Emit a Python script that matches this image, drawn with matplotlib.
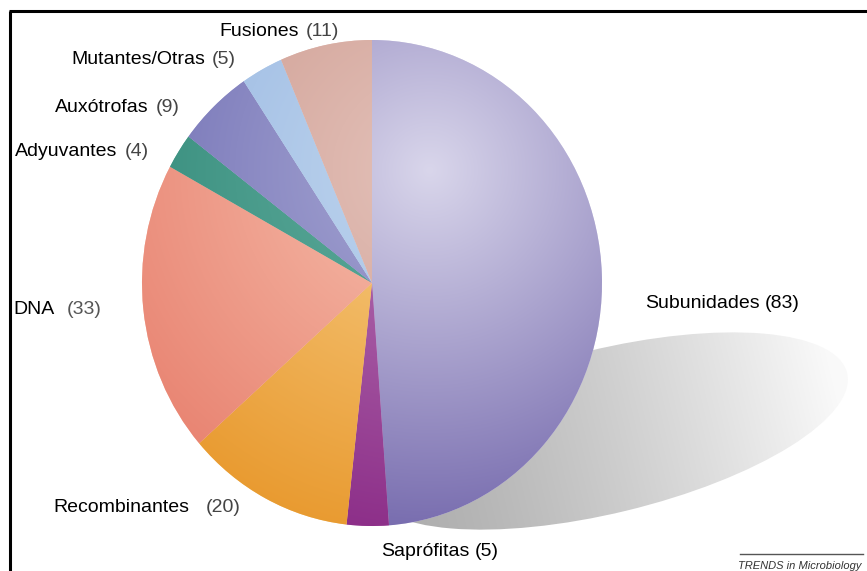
import numpy as np
import matplotlib
matplotlib.use('Agg')
import matplotlib.pyplot as plt
from matplotlib.patches import Ellipse
from matplotlib.colors import to_rgb


labels = ['Subunidades', 'Saprófitas', 'Recombinantes', 'DNA',
          'Adyuvantes', 'Auxótrofas', 'Mutantes/Otras', 'Fusiones']
counts = [83, 5, 20, 33, 4, 9, 5, 11]

# light / dark ends of each slice shading
light = ['#d9d6eb', '#b676b4', '#f7cc84', '#f6c0ae',
         '#62ae9e', '#a8a8d4', '#c0d6ee', '#e4c2ba']
dark = ['#7064aa', '#8a2a86', '#e8982c', '#e8806e',
        '#2e8676', '#6a68b0', '#92b2e0', '#c89286']

# label placement (left x, centre y in pixels), gap before number, number colour
lab_pos = {
    'Fusiones': (219, 32, 5, '#444444'),
    'Mutantes/Otras': (71, 60, 5, '#444444'),
    'Auxótrofas': (55, 108, 5, '#444444'),
    'Adyuvantes': (15, 152, 5, '#444444'),
    'DNA': (13, 309, 9, '#555555'),
    'Subunidades': (645, 303, 4, 'black'),
    'Recombinantes': (53, 507, 12, '#444444'),
    'Saprófitas': (381, 552, 4, 'black'),
}

W, H = 867, 571
fig = plt.figure(figsize=(W / 100, H / 100), dpi=100)
ax = fig.add_axes([0, 0, 1, 1])

# shadow under the pie
sx, sy, sa, sb, sang = 607, 431, 247, 82, 13.6
sh = Ellipse((sx, sy), width=2 * sa, height=2 * sb, angle=-sang,
             facecolor='none', edgecolor='none')
ax.add_patch(sh)
gx, gy = np.meshgrid(np.arange(340, W), np.arange(300, H))
c, s = np.cos(np.radians(sang)), np.sin(np.radians(sang))
u = ((gx - sx) * c - (gy - sy) * s) / sa
f = np.clip((u + 0.8) / 1.75, 0, 1) ** 1.2
g = 0.69 + 0.29 * f
img = np.dstack([g, g, g])
im = ax.imshow(img, extent=(340, W, H, 300), origin='upper', aspect='auto', zorder=1)
im.set_clip_path(sh)

# frame
ax.plot([10, 10], [H, 11], color='black', lw=2.2, solid_capstyle='butt')
ax.plot([9, W], [11, 11], color='black', lw=2.2, solid_capstyle='butt')

ax.plot([740, 863], [554, 554], color='#555555', lw=1)
ax.text(862, 566, 'TRENDS in Microbiology', ha='right', va='center',
        fontsize=8, style='italic', family='Liberation Sans', color='#333333')

for lab, n in zip(labels, counts):
    x, y, gap, col = lab_pos[lab]
    t = ax.text(x, y, lab, ha='left', va='center', fontsize=14,
                family='Liberation Sans', color='black', zorder=5)
    ax.annotate('(%d)' % n, xy=(1, 0.5), xycoords=t, xytext=(gap, 0),
                textcoords='offset points', ha='left', va='center',
                fontsize=14, family='Liberation Sans', color=col, zorder=5)

ax.set_xlim(0, W)
ax.set_ylim(H, 0)
ax.set_aspect('auto')
ax.axis('off')

# the pie, squashed into an ellipse
cx, cy, rx, ry = 372, 283, 230, 243
pax = fig.add_axes([(cx - rx) / W, (H - cy - ry) / H, 2 * rx / W, 2 * ry / H])
wedges, _ = pax.pie(counts, startangle=90, counterclock=False,
                    colors=light, wedgeprops=dict(edgecolor='none', linewidth=0))

px, py = np.meshgrid(np.linspace(-1, 1, 400), np.linspace(-1, 1, 400))
hx, hy = 58, 113
dist = np.hypot(px * rx - hx, py * ry - hy)
tt = np.clip(dist / 390, 0, 1)[..., None]
for w, lc, dc in zip(wedges, light, dark):
    shade = np.array(to_rgb(lc)) * (1 - tt) + np.array(to_rgb(dc)) * tt
    wi = pax.imshow(shade, extent=(-1, 1, -1, 1), origin='lower', aspect='auto', zorder=3)
    wi.set_clip_path(w)
pax.set_xlim(-1, 1)
pax.set_ylim(-1, 1)
pax.set_aspect('auto')
pax.axis('off')

fig.savefig('out.png', dpi=100)
